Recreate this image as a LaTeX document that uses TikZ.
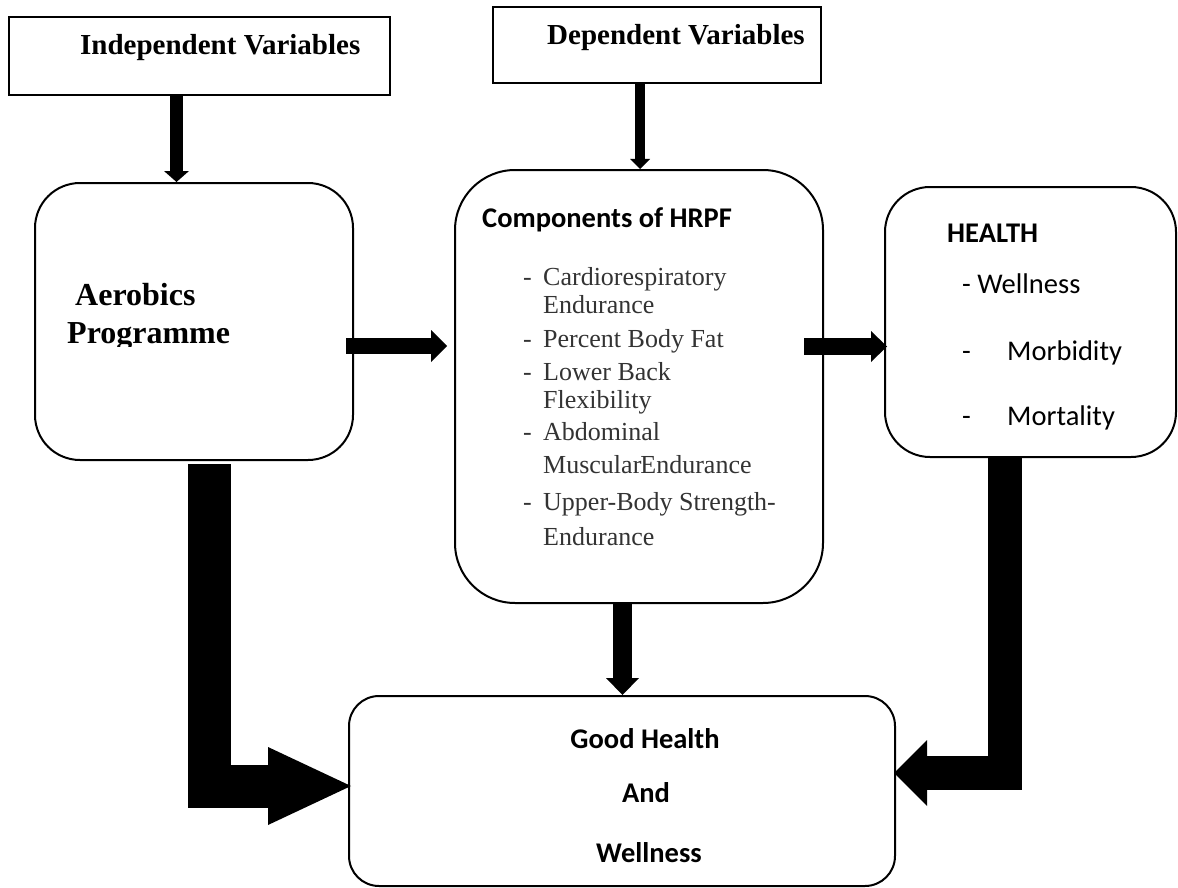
\documentclass[tikz,border=0pt]{standalone}
\usepackage{fontspec}
\setmainfont{Liberation Serif}
\newfontfamily\calibrifont{Carlito}
\usetikzlibrary{arrows.meta,calc}
\tikzset{
  sqbox/.style={draw, line width=1.6pt, inner sep=0pt},
  rbox/.style={draw, line width=2pt, inner sep=0pt},
  lbl/.style={inner sep=0pt, anchor=base west},
  clbl/.style={inner sep=0pt, anchor=base},
  timesbold/.style={font=\fontsize{29pt}{34pt}\selectfont\bfseries},
  timesbig/.style={font=\fontsize{32pt}{38pt}\selectfont\bfseries},
  listtxt/.style={font=\fontsize{26pt}{30pt}\selectfont, text=black!80},
  calbold/.style={font=\calibrifont\fontsize{28.5pt}{34pt}\selectfont\bfseries},
  calreg/.style={font=\calibrifont\fontsize{28.5pt}{34pt}\selectfont},
  blockarrow/.style={line width=#1, line join=miter, line cap=butt},
}
\begin{document}
\begin{tikzpicture}[x=1pt, y=-1pt]
\useasboundingbox (0,0) rectangle (1178,888);

% boxes
\node[sqbox, minimum width=381pt, minimum height=78pt] (iv) at (199.5,56) {};
\node[sqbox, minimum width=328pt, minimum height=76pt] (dv) at (657,45) {};
\node[rbox, rounded corners=45pt, minimum width=318pt, minimum height=277pt] (ap) at (194,321.5) {};
\node[rbox, rounded corners=60pt, minimum width=368pt, minimum height=433pt] (comp) at (639,386.5) {};
\node[rbox, rounded corners=45pt, minimum width=291pt, minimum height=270pt] (hl) at (1030.5,322) {};
\node[rbox, rounded corners=30pt, minimum width=546pt, minimum height=190pt] (gh) at (622,791) {};

% texts
\node[lbl, timesbold] (ivt) at (80,55) {Independent Variables};
\node[lbl, timesbold] (dvt) at (547,45) {Dependent Variables};
\node[lbl, timesbig] (apt1) at (75,305) {Aerobics};
\begin{scope}
  \clip (0,0) rectangle (1178,346);
  \node[lbl, timesbig] (apt2) at (67,343) {Programme};
\end{scope}

\node[lbl, calbold] (compt) at (482,227) {Components of HRPF};
\foreach \y in {285,347,380,440,510}{
  \node[lbl, listtxt] (d\y) at (523,\y) {-};
}
\node[lbl, listtxt] (c1) at (543,285) {Cardiorespiratory};
\node[lbl, listtxt] (c2) at (543,313) {Endurance};
\node[lbl, listtxt] (c3) at (543,347) {Percent Body Fat};
\node[lbl, listtxt] (c4) at (543,380) {Lower Back};
\node[lbl, listtxt] (c5) at (543,408) {Flexibility};
\node[lbl, listtxt] (c6) at (543,440) {Abdominal};
\node[lbl, listtxt] (c7) at (543,473) {Muscular\kern-1pt Endurance};
\node[lbl, listtxt] (c8) at (543,510) {Upper-Body Strength-};
\node[lbl, listtxt] (c9) at (543,545) {Endurance};

\node[lbl, calbold] (hlt) at (947,242) {HEALTH};
\node[lbl, calreg] (h1) at (962,293) {- Wellness};
\node[lbl, calreg] (h2d) at (962,360) {-};
\node[lbl, calreg] (h2) at (1007,360) {Morbidity};
\node[lbl, calreg] (h3d) at (962,425) {-};
\node[lbl, calreg] (h3) at (1007,425) {Mortality};

\node[clbl, calbold] (g1) at (645,748) {Good Health};
\node[clbl, calbold] (g2) at (646,802) {And};
\node[clbl, calbold] (g3) at (649,862) {Wellness};

% block arrows
\draw[blockarrow=12.5pt, -{Triangle[length=11pt, width=25pt, line width=0pt]}]
  ($(iv.south)+(-23,0)$) -- ($(ap.north)+(-17.5,0)$);
\draw[blockarrow=10pt, -{Triangle[length=10pt, width=20pt, line width=0pt]}]
  ($(dv.south)+(-17,0)$) -- ($(comp.north)+(1,0)$);
\draw[blockarrow=16pt, -{Triangle[length=16pt, width=32pt, line width=0pt]}]
  ($(ap.east)+(-8,24.5)$) -- ($(comp.west)+(-7,-40.5)$);
\draw[blockarrow=17pt, -{Triangle[length=16pt, width=31pt, line width=0pt]}]
  ($(comp.east)+(-20,-40)$) -- ($(hl.west)+(3,24.5)$);
\draw[blockarrow=18.5pt, -{Triangle[length=17pt, width=33pt, line width=0pt]}]
  ($(comp.south)+(-16.5,0)$) -- ($(gh.north)+(0.5,0)$);
\draw[blockarrow=43pt, -{Triangle[length=83pt, width=78pt, line width=0pt]}]
  ($(ap.south)+(15.5,3)$) |- ($(gh.west)+(3,-5)$);
\draw[blockarrow=34pt, -{Triangle[length=33pt, width=66pt, line width=0pt]}]
  ($(hl.south)+(-25.5,0)$) |- ($(gh.east)+(-2,-18)$);
\end{tikzpicture}
\end{document}
